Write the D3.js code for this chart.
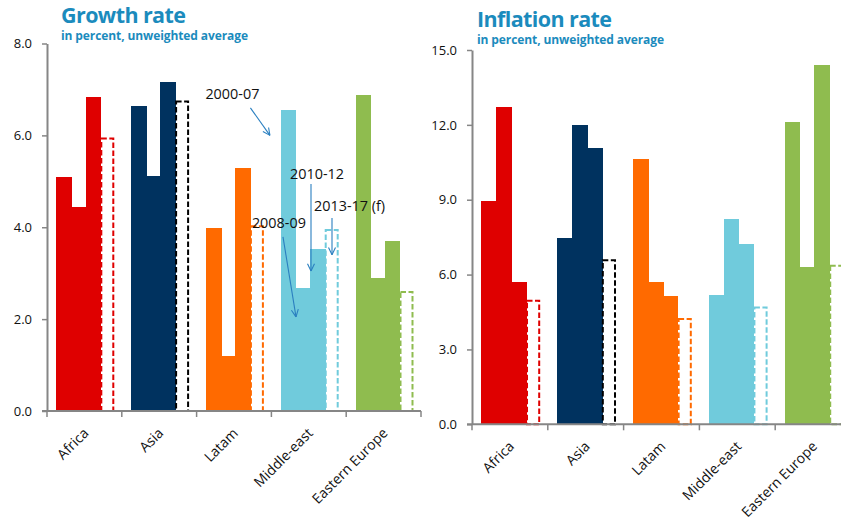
<!DOCTYPE html>
<html>
<head>
<meta charset="utf-8">
<script src="https://cdn.jsdelivr.net/npm/d3@7"></script>
<style>
  html, body { margin: 0; padding: 0; background: #ffffff; }
  svg { display: block; font-family: "Open Sans", "Noto Sans", sans-serif; }
</style>
</head>
<body>
<svg id="chart" width="841" height="521"></svg>
<script>
// Regions and the four periods shown for each of them
const categories = ["Africa", "Asia", "Latam", "Middle-east", "Eastern Europe"];
const periods = ["2000-07", "2008-09", "2010-12", "2013-17 (f)"];

// Growth rate, in percent (unweighted average), one array per period
const growth2000_07 = [5.10, 6.65, 3.98, 6.55, 6.88];
const growth2008_09 = [4.45, 5.11, 1.20, 2.68, 2.90];
const growth2010_12 = [6.83, 7.16, 5.29, 3.53, 3.70];
const growth2013_17 = [5.93, 6.74, 4.02, 3.94, 2.59];

// Inflation rate, in percent (unweighted average), one array per period
const inflation2000_07 = [8.95, 7.47, 10.63, 5.18, 12.12];
const inflation2008_09 = [12.72, 12.00, 5.70, 8.23, 6.30];
const inflation2010_12 = [5.69, 11.07, 5.14, 7.23, 14.40];
const inflation2013_17 = [4.95, 6.57, 4.22, 4.68, 6.35];

// Axis tick values
const growthTicks = [0, 2, 4, 6, 8];
const inflationTicks = [0, 3, 6, 9, 12, 15];

// Colours per region; the forecast outline uses its own colour
const regionColors = ["#df0000", "#00325f", "#ff6a00", "#70cbdc", "#8fbc4f"];
const forecastColors = ["#df0000", "#000000", "#ff6a00", "#70cbdc", "#8fbc4f"];

const svg = d3.select("#chart");
const axisColor = "#868686";
const titleColor = "#1b8bbd";

function drawPanel(opt) {
  const series = opt.series;
  const x = d3.scaleBand().domain(categories).range(opt.xRange).padding(0);
  const bw = x.bandwidth();
  const sub = d3.scaleBand().domain(periods).range([0.125 * bw, 0.905 * bw]).padding(0);
  const y = d3.scaleLinear().domain(opt.yDomain).range(opt.yRange);

  const g = svg.append("g");

  // Solid bars for the three historical periods
  periods.slice(0, 3).forEach((p, pi) => {
    g.selectAll(null)
      .data(categories)
      .join("rect")
      .attr("x", (c) => x(c) + sub(p))
      .attr("y", (c, i) => y(series[pi][i]))
      .attr("width", sub.bandwidth() + 1)
      .attr("height", (c, i) => y(0) - y(series[pi][i]))
      .attr("fill", (c, i) => regionColors[i])
      .attr("shape-rendering", "crispEdges");
  });

  // Dashed outline bars for the forecast period
  const fp = periods[3];
  g.selectAll(null)
    .data(categories)
    .join("rect")
    .attr("x", (c) => x(c) + sub(fp) + 1.2)
    .attr("y", (c, i) => y(series[3][i]))
    .attr("width", sub.bandwidth() - 2.6)
    .attr("height", (c, i) => y(0) - y(series[3][i]))
    .attr("fill", "none")
    .attr("stroke", (c, i) => forecastColors[i])
    .attr("stroke-width", 2)
    .attr("stroke-dasharray", "5.5,2.5");

  // Y axis
  const yAxis = d3.axisLeft(y)
    .tickValues(opt.ticks)
    .tickFormat(d3.format(".1f"))
    .tickSize(5)
    .tickSizeOuter(0)
    .tickPadding(10);
  const ya = g.append("g")
    .attr("transform", `translate(${opt.xRange[0]},0)`)
    .call(yAxis);
  ya.select(".domain").attr("stroke", axisColor).attr("stroke-width", 2);
  ya.selectAll(".tick line").attr("stroke", axisColor).attr("stroke-width", 1.5);
  ya.selectAll(".tick text")
    .attr("fill", "#111")
    .style("font-size", "13px")
    .style("font-family", "'Open Sans', sans-serif");

  // X axis baseline with ticks between categories
  const x0 = y(0);
  g.append("line")
    .attr("x1", opt.xRange[0] - 5).attr("x2", opt.xRange[1])
    .attr("y1", x0).attr("y2", x0)
    .attr("stroke", axisColor).attr("stroke-width", 2);
  const bounds = categories.map((c) => x(c)).concat([opt.xRange[1]]);
  g.selectAll(null)
    .data(bounds)
    .join("line")
    .attr("x1", (d) => d).attr("x2", (d) => d)
    .attr("y1", x0).attr("y2", x0 + 6)
    .attr("stroke", axisColor).attr("stroke-width", 1.5);

  // Rotated category labels
  g.selectAll(null)
    .data(categories)
    .join("text")
    .attr("transform", (c) => `translate(${x(c) + bw / 2 + 5},${x0 + 23}) rotate(-45)`)
    .attr("text-anchor", "end")
    .attr("fill", "#111")
    .style("font-size", "14px")
    .text((c) => c);

  // Title and subtitle
  svg.append("text")
    .attr("x", opt.titleX).attr("y", opt.titleY)
    .attr("fill", titleColor)
    .style("font-size", "21.5px").style("font-weight", 700)
    .style("letter-spacing", "-0.6px")
    .text(opt.title);
  svg.append("text")
    .attr("x", opt.titleX).attr("y", opt.titleY + 17)
    .attr("fill", titleColor)
    .style("font-size", "12px").style("font-weight", 700)
    .style("letter-spacing", "-0.1px")
    .text("in percent, unweighted average");

  return { x, y, bw, g };
}

const growth = drawPanel({
  series: [growth2000_07, growth2008_09, growth2010_12, growth2013_17],
  xRange: [47, 421], yRange: [411, 43.5], yDomain: [0, 8], ticks: growthTicks,
  title: "Growth rate", titleX: 61, titleY: 23
});

drawPanel({
  series: [inflation2000_07, inflation2008_09, inflation2010_12, inflation2013_17],
  xRange: [472, 851], yRange: [424.3, 50], yDomain: [0, 15], ticks: inflationTicks,
  title: "Inflation rate", titleX: 477, titleY: 27
});

// Period call-outs pointing at the Middle-east bars of the growth panel
const callouts = [
  { label: periods[0], tx: -66, tv: 6.79, ax: -21, av: 6.6, bx: -1.5, bv: 6.0 },
  { label: periods[1], tx: -19.5, tv: 3.98, ax: 11.6, av: 3.79, bx: 24.6, bv: 2.05 },
  { label: periods[2], tx: 18.6, tv: 5.05, ax: 39.6, av: 4.94, bx: 39.6, bv: 3.05 },
  { label: periods[3], tx: 42.6, tv: 4.35, ax: 60.6, av: 4.2, bx: 60.6, bv: 3.4 }
];
const me = growth.x("Middle-east");
const arrowColor = "#2a7fc0";
const cg = svg.append("g");
callouts.forEach((d) => {
  const x1 = me + d.ax, y1 = growth.y(d.av);
  const x2 = me + d.bx, y2 = growth.y(d.bv);
  cg.append("line")
    .attr("x1", x1).attr("y1", y1).attr("x2", x2).attr("y2", y2)
    .attr("stroke", arrowColor).attr("stroke-width", 1.1);
  const ang = Math.atan2(y2 - y1, x2 - x1);
  const len = 8, spread = 0.45;
  [ang + Math.PI - spread, ang + Math.PI + spread].forEach((a) => {
    cg.append("line")
      .attr("x1", x2).attr("y1", y2)
      .attr("x2", x2 + len * Math.cos(a)).attr("y2", y2 + len * Math.sin(a))
      .attr("stroke", arrowColor).attr("stroke-width", 1.1);
  });
  cg.append("text")
    .attr("x", me + d.tx).attr("y", growth.y(d.tv))
    .attr("fill", "#111")
    .style("font-size", "14.4px")
    .text(d.label);
});
</script>
</body>
</html>
